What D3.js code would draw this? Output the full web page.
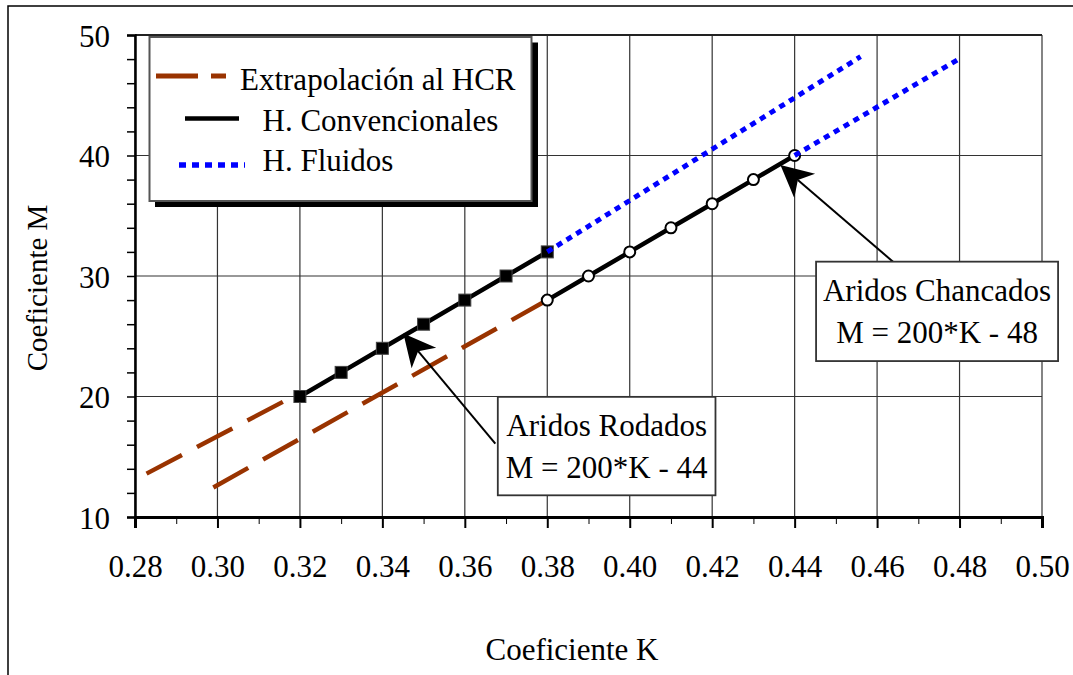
<!DOCTYPE html>
<html><head><meta charset="utf-8">
<script src="https://cdn.jsdelivr.net/npm/d3@7"></script>
<style>
body{margin:0;background:#fff}
text{font-family:"Liberation Serif","Times New Roman",serif;fill:#000}
</style>
</head><body>
<svg id="c" width="1073" height="675"></svg>
<script>
// ---- data ----
const kTicks = [0.28,0.30,0.32,0.34,0.36,0.38,0.40,0.42,0.44,0.46,0.48,0.50];
const kMinor = [0.29,0.31,0.33,0.35,0.37,0.39,0.41,0.43,0.45,0.47,0.49];
const mTicks = [10,20,30,40,50];
const mMinor = [12,14,16,18,22,24,26,28,32,34,36,38,42,44,46,48];

const kRodados = [0.32,0.33,0.34,0.35,0.36,0.37,0.38];
const mRodados = [20,22,24,26,28,30,32];
const kChancados = [0.38,0.39,0.40,0.41,0.42,0.43,0.44];
const mChancados = [28,30,32,34,36,38,40];

const kExtrapRodados = [0.2828,0.32];
const mExtrapRodados = [13.6,20.3];
const kExtrapChancados = [0.2990,0.38];
const mExtrapChancados = [12.45,28];

const kFluidosRodados = [0.38,0.456];
const mFluidosRodados = [32,48.2];
const kFluidosChancados = [0.44,0.4798];
const mFluidosChancados = [40,48.0];

const legendLabels = ["Extrapolación al HCR","H. Convencionales","H. Fluidos"];
const annotRodados = {lines:["Aridos Rodados","M = 200*K - 44"], tip:[0.3451,25.23], tail:[0.3674,16.09], box:[0.3680,19.97,0.4208,11.80]};
const annotChancados = {lines:["Aridos Chancados","M = 200*K - 48"], tip:[0.43655,39.21], tail:[0.46527,30.77], box:[0.4452,31.19,0.5039,22.94]};

// ---- chart ----
const svg = d3.select("#c");
const x = d3.scaleLinear().domain([0.28,0.50]).range([135,1042]);
const y = d3.scaleLinear().domain([10,50]).range([517,35]);

// outer frame
svg.append("rect").attr("x",8).attr("y",6).attr("width",1100).attr("height",700)
  .attr("fill","none").attr("stroke","#000").attr("stroke-width",1.5);

// grid
const g = svg.append("g");
g.selectAll(".vg").data(kTicks).join("line")
  .attr("x1",d=>x(d)).attr("x2",d=>x(d)).attr("y1",y(10)).attr("y2",y(50))
  .attr("stroke","#333").attr("stroke-width",1.2);
g.selectAll(".hg").data(mTicks).join("line")
  .attr("y1",d=>y(d)).attr("y2",d=>y(d)).attr("x1",x(0.28)).attr("x2",x(0.50))
  .attr("stroke","#333").attr("stroke-width",1.2);
g.append("line").attr("x1",x(0.28)).attr("x2",x(0.50)).attr("y1",y(50)).attr("y2",y(50))
  .attr("stroke","#222").attr("stroke-width",2);

// axes
const fmtK = d3.format(".2f");
const ax = svg.append("g").attr("transform",`translate(0,${y(10)})`)
  .call(d3.axisBottom(x).tickValues(kTicks).tickSize(11).tickFormat(fmtK));
svg.append("g").attr("transform",`translate(0,${y(10)})`)
  .call(d3.axisBottom(x).tickValues(kMinor).tickSize(7).tickFormat(""))
  .call(s=>s.select(".domain").remove());
ax.selectAll("text").attr("y",60).attr("dy",null).style("font-size","31px")
  .style("font-family","'Liberation Serif',serif");
ax.select(".domain").attr("stroke-width",3);
ax.selectAll(".tick line").attr("stroke-width",2);

const ay = svg.append("g").attr("transform",`translate(${x(0.28)},0)`)
  .call(d3.axisLeft(y).tickValues(mTicks).tickSize(8).tickPadding(17).tickFormat(d3.format("d")));
svg.append("g").attr("transform",`translate(${x(0.28)},0)`)
  .call(d3.axisLeft(y).tickValues(mMinor).tickSize(8).tickFormat(""))
  .call(s=>s.select(".domain").remove())
  .selectAll(".tick line").attr("stroke-width",1.5);
ay.selectAll("text").attr("dy","0.36em").style("font-size","31px")
  .style("font-family","'Liberation Serif',serif");
ay.select(".domain").attr("stroke-width",2.5);
ay.selectAll(".tick line").attr("stroke-width",1.5);

// axis titles
svg.append("text").attr("x",572).attr("y",660).attr("text-anchor","middle")
  .style("font-size","31px").text("Coeficiente K");
svg.append("text").attr("transform","translate(47,288) rotate(-90)").attr("text-anchor","middle")
  .style("font-size","29px").text("Coeficiente M");

const line = d3.line().x(d=>x(d[0])).y(d=>y(d[1]));
const zip = (a,b)=>a.map((v,i)=>[v,b[i]]);

// extrapolation (dashed brown)
[[kExtrapRodados,mExtrapRodados],[kExtrapChancados,mExtrapChancados]].forEach(([k,m])=>{
  svg.append("path").attr("d",line(zip(k,m))).attr("fill","none")
    .attr("stroke","#993300").attr("stroke-width",4.5).attr("stroke-dasharray","40,17");
});

// conventional lines
[[kRodados,mRodados],[kChancados,mChancados]].forEach(([k,m])=>{
  svg.append("path").attr("d",line(zip(k,m))).attr("fill","none")
    .attr("stroke","#000").attr("stroke-width",4.5);
});
svg.selectAll(".sq").data(zip(kRodados,mRodados)).join("rect")
  .attr("x",d=>x(d[0])-6).attr("y",d=>y(d[1])-6).attr("width",12).attr("height",12)
  .attr("fill","#000").attr("stroke","#444").attr("stroke-width",1);
svg.selectAll(".ci").data(zip(kChancados,mChancados)).join("circle")
  .attr("cx",d=>x(d[0])).attr("cy",d=>y(d[1])).attr("r",5.5)
  .attr("fill","#fff").attr("stroke","#000").attr("stroke-width",2);

// fluidos (dotted blue)
[[kFluidosRodados,mFluidosRodados],[kFluidosChancados,mFluidosChancados]].forEach(([k,m])=>{
  svg.append("path").attr("d",line(zip(k,m))).attr("fill","none")
    .attr("stroke","#0000ff").attr("stroke-width",5).attr("stroke-dasharray","6,5.4");
});

// legend
svg.append("rect").attr("x",155).attr("y",42.5).attr("width",383).attr("height",164.5).attr("fill","#000");
svg.append("rect").attr("x",149.5).attr("y",37).attr("width",382).attr("height",164)
  .attr("fill","#fff").attr("stroke","#555").attr("stroke-width",2);
const legendStyles = [
  {x1:156,x2:226,y:76,color:"#993300",w:5,dash:"42,13",tx:240,ty:90},
  {x1:185,x2:239,y:118.5,color:"#000",w:4.5,dash:null,tx:262.5,ty:131},
  {x1:179,x2:245,y:165,color:"#0000ff",w:5.5,dash:"7,6",tx:262.5,ty:171}
];
legendLabels.forEach((lab,i)=>{
  const s = legendStyles[i];
  const l = svg.append("line").attr("x1",s.x1).attr("x2",s.x2).attr("y1",s.y).attr("y2",s.y)
    .attr("stroke",s.color).attr("stroke-width",s.w);
  if(s.dash) l.attr("stroke-dasharray",s.dash);
  svg.append("text").attr("x",s.tx).attr("y",s.ty).style("font-size","31px").text(lab);
});

// annotations
function annotate(a){
  const [bx1,by1,bx2,by2] = [x(a.box[0]),y(a.box[1]),x(a.box[2]),y(a.box[3])];
  const tx = x(a.tip[0]), ty = y(a.tip[1]), sx = x(a.tail[0]), sy = y(a.tail[1]);
  const dx = tx-sx, dy = ty-sy, len = Math.hypot(dx,dy);
  const ux = dx/len, uy = dy/len, nx = -uy, ny = ux;
  const L = 32, W = 16, N = 9;
  svg.append("line").attr("x1",sx).attr("y1",sy).attr("x2",tx-ux*(L-N)).attr("y2",ty-uy*(L-N))
    .attr("stroke","#000").attr("stroke-width",2);
  const pts = [[tx,ty],[tx-ux*L+nx*W,ty-uy*L+ny*W],[tx-ux*(L-N),ty-uy*(L-N)],[tx-ux*L-nx*W,ty-uy*L-ny*W]];
  svg.append("polygon").attr("points",pts.map(p=>p.join(",")).join(" ")).attr("fill","#000");
  svg.append("rect").attr("x",bx1).attr("y",by1).attr("width",bx2-bx1).attr("height",by2-by1)
    .attr("fill","#fff").attr("stroke","#333").attr("stroke-width",1.8);
  const cx = (bx1+bx2)/2;
  svg.append("text").attr("x",cx).attr("y",by1+39).attr("text-anchor","middle").style("font-size","31px").text(a.lines[0]);
  svg.append("text").attr("x",cx).attr("y",by1+81).attr("text-anchor","middle").style("font-size","31px").text(a.lines[1]);
}
annotate(annotRodados);
annotate(annotChancados);
</script>
</body></html>
